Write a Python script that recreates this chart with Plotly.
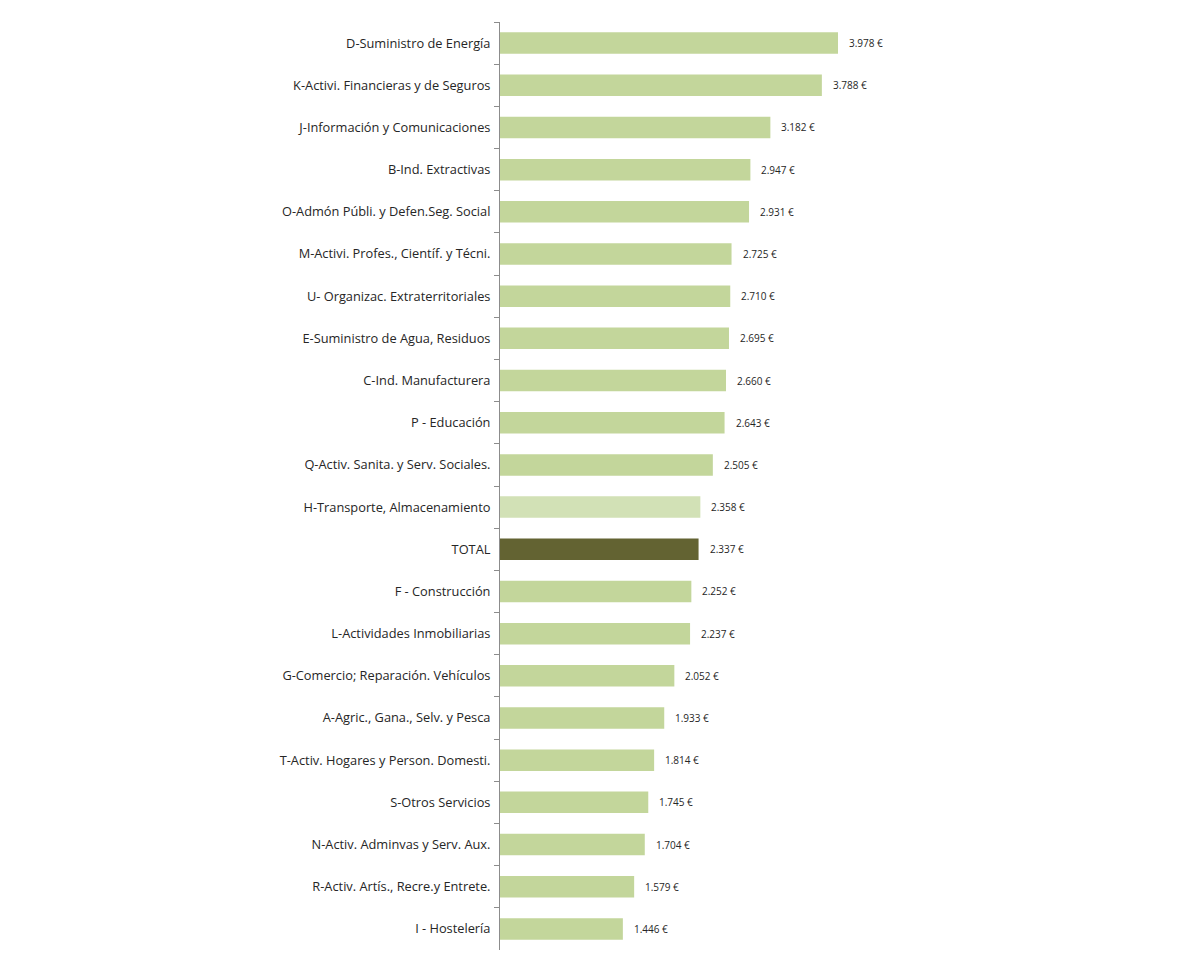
import plotly.graph_objects as go

# ---------- DATA ----------
sectores = [
    "D-Suministro de Energía",
    "K-Activi. Financieras y de Seguros",
    "J-Información y Comunicaciones",
    "B-Ind. Extractivas",
    "O-Admón Públi. y Defen.Seg. Social",
    "M-Activi. Profes., Científ. y Técni.",
    "U- Organizac. Extraterritoriales",
    "E-Suministro de Agua, Residuos",
    "C-Ind. Manufacturera",
    "P - Educación",
    "Q-Activ. Sanita. y Serv. Sociales.",
    "H-Transporte, Almacenamiento",
    "TOTAL",
    "F - Construcción",
    "L-Actividades Inmobiliarias",
    "G-Comercio; Reparación. Vehículos",
    "A-Agric., Gana., Selv. y Pesca",
    "T-Activ. Hogares y Person. Domesti.",
    "S-Otros Servicios",
    "N-Activ. Adminvas y Serv. Aux.",
    "R-Activ. Artís., Recre.y Entrete.",
    "I - Hostelería",
]
salario = [3978, 3788, 3182, 2947, 2931, 2725, 2710, 2695, 2660, 2643, 2505,
           2358, 2337, 2252, 2237, 2052, 1933, 1814, 1745, 1704, 1579, 1446]

# ---------- STYLE ----------
GREEN = "#c3d69b"
colors = []
for s in sectores:
    if s == "TOTAL":
        colors.append("#636332")
    elif s.startswith("H-"):
        colors.append("#d2e1b6")
    else:
        colors.append(GREEN)


def fmt(v):
    return f"{v:,}".replace(",", ".") + " €"


fig = go.Figure(go.Bar(
    x=salario,
    y=sectores,
    orientation="h",
    marker=dict(color=colors, line=dict(width=0)),
    hoverinfo="x+y",
))

for s, v in zip(sectores, salario):
    fig.add_annotation(
        x=v, y=s, text=fmt(v), showarrow=False,
        xanchor="left", xshift=9,
        font=dict(family="Open Sans", size=10, color="#262626"),
    )

fig.update_layout(
    width=1200, height=965,
    margin=dict(l=492, r=208, t=14, b=23),
    plot_bgcolor="white", paper_bgcolor="white",
    bargap=0.49,
    showlegend=False,
    font=dict(family="Open Sans", color="#262626"),
)
fig.update_xaxes(
    range=[0, 3978 * 500 / 338],
    visible=False,
)
fig.update_yaxes(
    autorange="reversed",
    showline=True, linecolor="#8c8c8c", linewidth=1,
    ticks="outside", tickson="boundaries", ticklen=5, tickcolor="#8c8c8c",
    ticklabelstandoff=6,
    showgrid=False,
    tickfont=dict(family="Open Sans", size=12.8, color="#262626"),
)

fig.write_html("out.html")
